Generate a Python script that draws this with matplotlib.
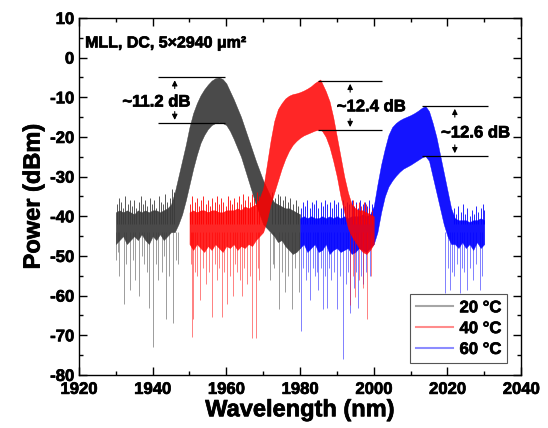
import numpy as np
import matplotlib
matplotlib.use("Agg")
import matplotlib.pyplot as plt
import matplotlib.patheffects as pe
from matplotlib.lines import Line2D

plt.rcParams['font.family'] = ['Liberation Sans', 'DejaVu Sans']
plt.rcParams['font.weight'] = 'bold'

# 20 C spectrum envelope (dense band top / bottom), dBm
wl_20 = [1930, 1931, 1932, 1933, 1934, 1935, 1936, 1937, 1938, 1939, 1940, 1941, 1942, 1943, 1944, 1945,
         1946, 1947, 1948, 1949, 1950, 1951, 1952, 1953, 1954, 1955, 1956, 1957, 1958, 1959, 1960, 1961,
         1962, 1964, 1966, 1968, 1970, 1972, 1973, 1974, 1975, 1976, 1977, 1978, 1979, 1980]
top_20 = [-39, -38.5, -39, -38.5, -39, -39.5, -38.5, -39, -38.5, -39, -38.5, -38.5, -39, -38.5, -38, -37,
          -34, -30, -26, -22, -17.5, -14, -11.5, -9.5, -8, -6.8, -5.8, -5.2, -5, -5.4, -6.5, -8.5,
          -10.5, -15, -20.5, -26, -31, -35, -36.5, -37, -37.5, -38, -38, -38.5, -39, -39.5]
bot_20 = [-47, -46, -45, -47, -46, -45, -46, -44.5, -46, -47, -45, -46, -44.5, -46, -45, -44,
          -44, -42, -39.5, -36, -32, -28, -24.5, -21.5, -19.5, -18, -17, -16.5, -16.3, -16.5, -17, -18.5,
          -20.5, -25, -31, -37, -42, -44, -45, -46.5, -46, -47.5, -48.5, -49.5, -49, -48]
hair_wl_20 = [1930.2, 1930.8, 1931.4, 1932.0, 1932.6, 1933.2, 1933.8, 1934.4, 1935.0, 1935.6, 1936.2,
              1936.8, 1937.4, 1938.0, 1938.6, 1939.2, 1939.8, 1940.4, 1941.0, 1941.6, 1942.2, 1942.8,
              1943.4, 1944.0, 1944.6, 1945.2, 1945.8, 1972.5, 1973.2, 1973.9, 1974.6, 1975.3, 1976.0,
              1976.7, 1977.4, 1978.1, 1978.8, 1979.5]
hair_db_20 = [-37, -35.5, -36.5, -38, -35, -37, -36, -37.5, -36, -38, -36.5,
              -35, -37, -36, -37.5, -35.5, -37, -36, -38, -35, -36.5, -37,
              -34.5, -36.5, -35.5, -33, -34, -34, -35.5, -34.5, -35, -36, -35,
              -36.5, -35.5, -37, -36, -37.5]
spk_wl_20 = [1930.0, 1930.6, 1931.0, 1932.2, 1932.9, 1933.8, 1934.6, 1935.2, 1936.3, 1937.0, 1937.6,
             1938.4, 1939.0, 1940.1, 1940.8, 1941.5, 1942.5, 1943.0, 1943.6, 1944.5, 1945.5, 1946.3,
             1947.0, 1971.9, 1972.6, 1973.0, 1974.3, 1975.1, 1975.8, 1976.8, 1977.8, 1978.7, 1979.6]
spk_db_20 = [-51, -49, -55, -62, -52, -58.5, -51, -56, -60, -50, -52,
             -54, -63, -73, -52, -56, -54, -50, -66, -55, -67, -51,
             -52, -56, -52, -53, -63.5, -54, -59, -55, -63.5, -53, -59]

# 40 C spectrum
wl_40 = [1950, 1951, 1952, 1953, 1954, 1955, 1956, 1957, 1958, 1959, 1960, 1961, 1962, 1963, 1964, 1965,
         1966, 1967, 1968, 1969, 1970, 1971, 1972, 1973, 1974, 1975, 1976, 1977, 1978, 1979, 1980, 1981,
         1982, 1983, 1984, 1985, 1985.5, 1986, 1987, 1988, 1989, 1990, 1991, 1992, 1993, 1994, 1995, 1996,
         1997, 1998, 1999, 2000]
top_40 = [-39, -38.5, -39, -38.5, -38.5, -39, -38.5, -38.5, -39, -39, -38.5, -38.5, -38.5, -38, -38.5, -37.5,
          -38, -37.5, -37, -35.5, -33, -27, -21, -16, -13, -11.5, -10.3, -9.6, -9.2, -9, -8.7, -8.3,
          -7.8, -7.2, -6.4, -5.8, -5.5, -6.5, -8.5, -11, -15, -20, -25, -30, -34, -37, -38, -38.5,
          -38.5, -39, -39.5, -40]
bot_40 = [-47, -48.5, -47, -48, -49, -47.5, -48.5, -47, -48, -49, -47.5, -48, -47, -48.5, -47.5, -48,
          -47, -47.5, -46, -45, -44, -41, -37, -34, -31, -28, -25.5, -23.5, -22, -21, -20.2, -19.6,
          -19.2, -18.8, -18.4, -18.2, -18.2, -18.5, -20, -22.5, -26, -30, -35, -39, -43, -45, -46.5, -48,
          -49, -49.5, -48.5, -47]
hair_wl_40 = [1950.2, 1950.8, 1951.4, 1952.0, 1952.6, 1953.2, 1953.8, 1954.4, 1955.0, 1955.6, 1956.2,
              1956.8, 1957.4, 1958.0, 1958.6, 1959.2, 1959.8, 1960.4, 1961.0, 1961.6, 1962.2, 1962.8,
              1963.4, 1964.0, 1964.6, 1965.2, 1965.8, 1966.4, 1967.0, 1967.6, 1968.2, 1968.8, 1994.5,
              1995.2, 1995.9, 1996.6, 1997.3, 1998.0, 1998.7, 1999.4]
hair_db_40 = [-37, -35, -36.5, -35.5, -37.5, -36, -35, -37, -36, -37.5, -35.5,
              -36.5, -35, -37, -35.5, -36.5, -37.5, -35, -36, -37, -35.5, -36.5,
              -35, -37, -34.5, -36, -35, -36.5, -34.5, -35.5, -34, -35, -36,
              -37, -36.5, -37.5, -36.5, -37, -38, -38.5]
spk_wl_40 = [1950.3, 1950.7, 1951.0, 1951.6, 1952.0, 1952.9, 1953.6, 1954.5, 1955.3, 1956.1, 1956.8,
             1957.4, 1958.1, 1958.8, 1959.5, 1960.2, 1961.0, 1961.8, 1962.4, 1963.0, 1963.6, 1964.2,
             1964.9, 1965.5, 1966.3, 1967.0, 1968.0, 1968.6, 1969.0, 1993.6, 1994.3, 1994.9, 1996.0,
             1997.0, 1998.2, 1999.2]
spk_db_40 = [-52, -70.5, -66, -54, -55, -61, -53, -57, -54, -65.5, -52,
             -56, -53, -65.5, -54, -62, -55, -60, -52, -54, -56, -60,
             -53, -57, -55, -70.7, -70.7, -53, -56, -62.3, -55, -60.3, -56,
             -58, -66, -55]

# 60 C spectrum
wl_60 = [1980, 1981, 1982, 1983, 1984, 1985, 1986, 1987, 1988, 1989, 1990, 1991, 1992, 1993, 1994, 1995,
         1996, 1997, 1998, 1999, 2000, 2001, 2002, 2003, 2004, 2005, 2006, 2007, 2008, 2009, 2010, 2011,
         2012, 2013, 2014, 2015, 2016, 2017, 2018, 2019, 2020, 2021, 2022, 2023, 2024, 2025, 2026, 2027,
         2028, 2029, 2030]
top_60 = [-40.5, -40, -40.5, -40, -40.5, -40.5, -40, -40.5, -40, -40.5, -40, -40.5, -40, -40.5, -40, -40,
          -40, -39.5, -40, -39.5, -37.5, -32, -27, -23, -19.5, -17.5, -16.5, -15.8, -15.3, -14.9, -14.5, -14,
          -13.4, -12.7, -12.2, -13.5, -16.5, -20, -24.5, -29, -33.5, -38, -40.5, -41, -41, -41, -41.5, -41,
          -41, -40.5, -41]
bot_60 = [-48, -47, -49, -48, -47, -49, -48.5, -47, -49.5, -48.5, -48, -49, -48.5, -48, -49.5, -49,
          -48, -48.5, -49, -48, -47, -44, -39, -35, -32.5, -31, -29.8, -28.8, -28, -27.5, -27, -26.4,
          -25.8, -25.2, -24.8, -26, -30, -34, -38, -42, -45, -47, -47, -48, -46.5, -48, -47, -48.5,
          -46.5, -48, -47]
hair_wl_60 = [1980.2, 1980.8, 1981.4, 1982.0, 1982.6, 1983.2, 1983.8, 1984.4, 1985.0, 1985.6, 1986.2,
              1986.8, 1987.4, 1988.0, 1988.6, 1989.2, 1989.8, 1990.4, 1991.0, 1991.6, 1992.2, 1992.8,
              1993.4, 1994.0, 1994.6, 1995.2, 1995.8, 1996.4, 1997.0, 1997.6, 1998.2, 1998.8, 1999.4,
              2021.8, 2022.4, 2023.0, 2023.6, 2024.2, 2024.8, 2025.4, 2026.0, 2026.6, 2027.2, 2027.8,
              2028.4, 2029.0, 2029.6, 2030.0]
hair_db_60 = [-38, -36.5, -37.5, -36, -38, -36.5, -37, -36, -38, -36.5, -37.5,
              -36, -37, -36.5, -38, -36, -37, -36.5, -38, -36, -37.5, -36.5,
              -37, -36, -37.5, -36.5, -38, -36, -37, -36.5, -37.5, -36, -37,
              -38, -39.5, -37.5, -39, -37, -39.5, -38, -40, -38.5, -39.5, -37.5,
              -39, -38, -37, -38.5]
spk_wl_60 = [1980.3, 1980.9, 1981.5, 1982.1, 1982.7, 1983.4, 1984.0, 1984.6, 1985.0, 1985.7, 1986.3,
             1986.9, 1987.3, 1987.9, 1988.5, 1989.2, 1990.0, 1990.8, 1991.7, 1992.6, 1993.1, 1993.6,
             1994.7, 1995.2, 1995.8, 1996.5, 1997.0, 1998.0, 1999.0, 2019.4, 2020.1, 2020.7, 2021.3,
             2021.8, 2022.6, 2023.4, 2024.0, 2024.5, 2025.3, 2026.2, 2027.0, 2027.8, 2028.9, 2029.5]
spk_db_60 = [-69, -53, -56, -54, -61, -53, -55, -54, -58.5, -53, -63.5,
             -55, -63, -53, -56, -54, -63.5, -55, -76, -57, -54, -64.5,
             -58, -54, -63, -55, -57, -54, -55, -59.3, -53, -58.5, -54,
             -55, -52, -59.3, -53, -54, -58.5, -53, -56, -52, -58.5, -55]

labels = ["20 \u00b0C", "40 \u00b0C", "60 \u00b0C"]
colors = ["#3a3a3a", "#ff0000", "#0000ff"]
xtick_labels = ["1920", "1940", "1960", "1980", "2000", "2020", "2040"]
ytick_labels = ["-80", "-70", "-60", "-50", "-40", "-30", "-20", "-10", "0", "10"]

# slight stroke so the bold text looks as heavy as in the original figure
heavy = [pe.withStroke(linewidth=0.5, foreground="black")]

fig = plt.figure(figsize=(5.48, 4.28), dpi=100)
ax = fig.add_axes([0.144, 0.124, 0.807, 0.834])

series = [(wl_20, top_20, bot_20, hair_wl_20, hair_db_20, spk_wl_20, spk_db_20),
          (wl_40, top_40, bot_40, hair_wl_40, hair_db_40, spk_wl_40, spk_db_40),
          (wl_60, top_60, bot_60, hair_wl_60, hair_db_60, spk_wl_60, spk_db_60)]
layer = [2, 4, 3]      # red trace sits on top where traces overlap
band_alpha = [0.92, 0.85, 0.92]

for i, (wl, top, bot, hwl, hdb, swl, sdb) in enumerate(series):
    c = colors[i]
    z = layer[i]
    ax.vlines(swl, sdb, -44, color=c, lw=0.7, alpha=0.5, zorder=z)
    ax.vlines(hwl, -42, hdb, color=c, lw=0.7, alpha=0.85, zorder=z)
    ax.fill_between(wl, bot, top, color=c, lw=0.3, alpha=band_alpha[i], zorder=z)

# annotations: (arrow x, top level, bottom level, line x-start, line x-end, text, text x, text y)
annot = [
    (1946.0, -5.0, -16.4, 1941.4, 1959.6, "~11.2 dB", 1941.0, -11.2),
    (1993.6, -5.9, -18.2, 1985.0, 2002.3, "~12.4 dB", 1999.3, -12.4),
    (2022.0, -12.2, -24.8, 2013.0, 2031.0, "~12.6 dB", 2027.6, -19.0),
]
for ax_x, hi, lo, x0, x1, txt, tx, ty in annot:
    ax.hlines([hi, lo], x0, x1, color="black", lw=0.9, zorder=6)
    ax.annotate("", xy=(ax_x, hi), xytext=(ax_x, hi - 3.5),
                arrowprops=dict(arrowstyle="-|>", color="black", lw=0.8, mutation_scale=8), zorder=6)
    ax.annotate("", xy=(ax_x, lo), xytext=(ax_x, lo + 3.5),
                arrowprops=dict(arrowstyle="-|>", color="black", lw=0.8, mutation_scale=8), zorder=6)
    ax.text(tx, ty, txt, ha="center", va="center", fontsize=12, fontweight="bold", zorder=7,
            path_effects=heavy)

ax.text(0.014, 0.93, "MLL, DC, 5\u00d72940 \u03bcm\u00b2", transform=ax.transAxes,
        ha="left", va="center", fontsize=11.5, fontweight="bold", path_effects=heavy)

ax.set_xlim(1920, 2040)
ax.set_ylim(-80, 10)
ax.set_xticks([1920, 1940, 1960, 1980, 2000, 2020, 2040])
ax.set_xticklabels(xtick_labels, fontsize=12, fontweight="bold", path_effects=heavy)
ax.set_xticks([1930, 1950, 1970, 1990, 2010, 2030], minor=True)
ax.set_yticks(range(-80, 11, 10))
ax.set_yticklabels(ytick_labels, fontsize=12, fontweight="bold", path_effects=heavy)
ax.set_yticks(range(-75, 10, 10), minor=True)
ax.tick_params(which="both", direction="in", top=True, right=True, width=1)
ax.tick_params(which="major", length=6)
ax.tick_params(which="minor", length=3)
ax.tick_params(axis="x", pad=5)
for s in ax.spines.values():
    s.set_linewidth(1.0)

ax.set_xlabel("Wavelength (nm)", fontsize=17, fontweight="bold", labelpad=1, path_effects=heavy)
ax.set_ylabel("Power (dBm)", fontsize=17, fontweight="bold", labelpad=4, path_effects=heavy)

handles = [Line2D([], [], color=c, lw=1.5, alpha=0.45) for c in colors]
leg = ax.legend(handles, labels, loc="lower right", bbox_to_anchor=(0.968, 0.034),
                fontsize=12, frameon=True, fancybox=False, framealpha=1, edgecolor="#555555",
                handlelength=2.2, borderpad=0.35, labelspacing=0.35, handletextpad=0.4,
                borderaxespad=0)
leg.set_zorder(10)
leg.get_frame().set_linewidth(0.8)
for t in leg.get_texts():
    t.set_path_effects(heavy)

fig.savefig("out.png", dpi=100)
